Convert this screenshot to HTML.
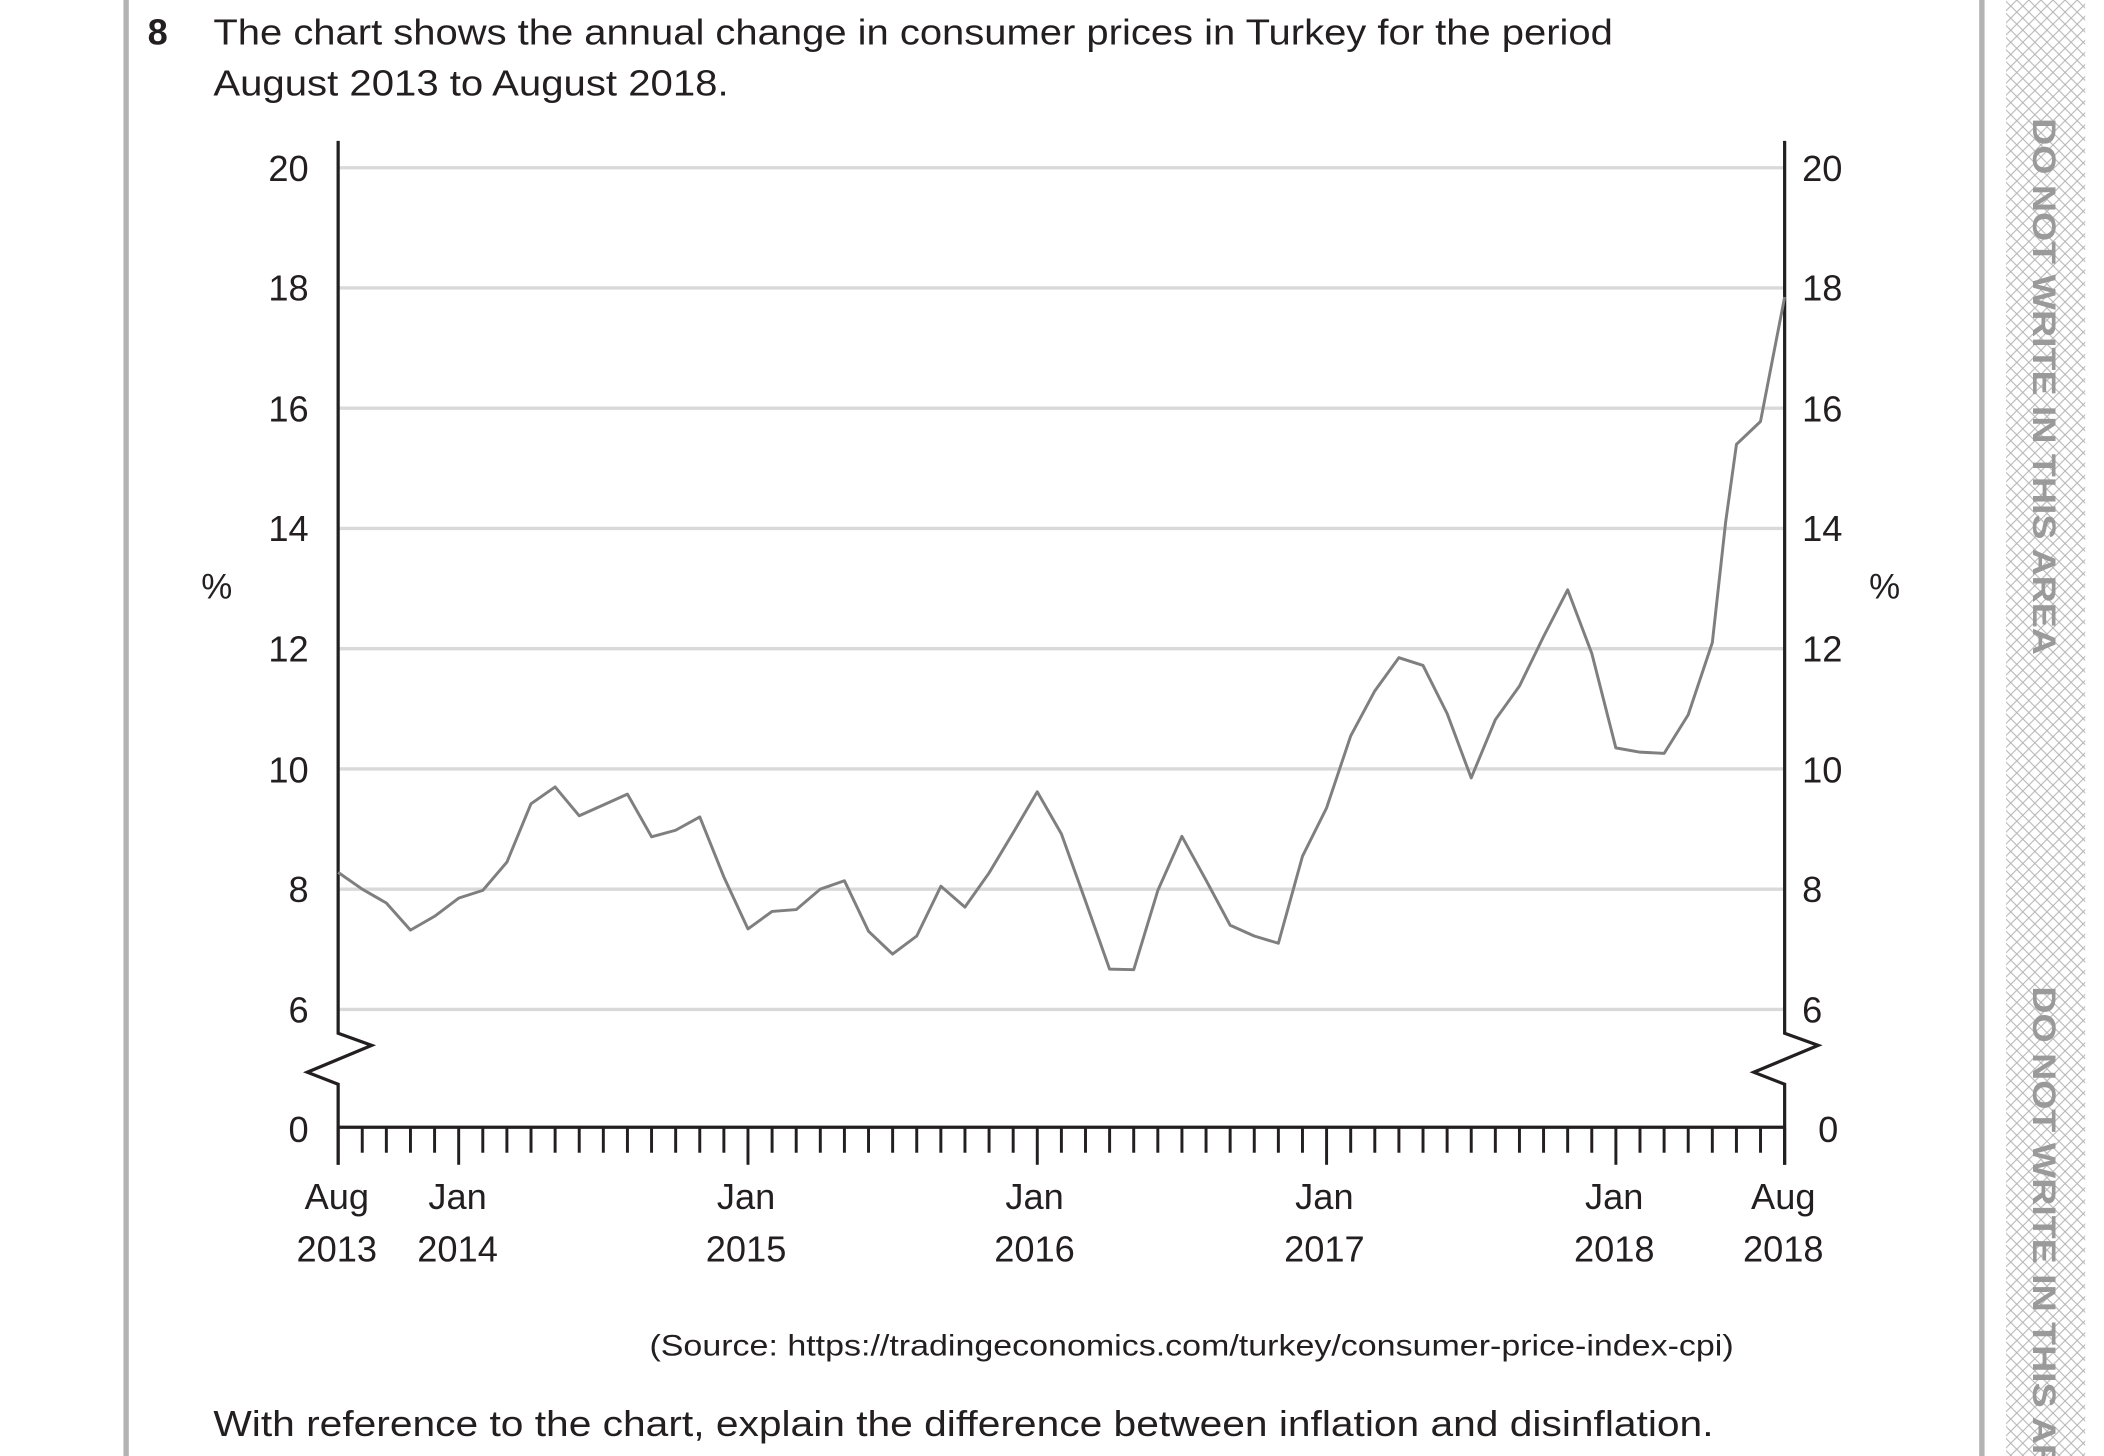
<!DOCTYPE html>
<html><head><meta charset="utf-8"><style>
html,body{margin:0;padding:0;background:#fff;}
svg{display:block;}
text{font-family:"Liberation Sans",sans-serif;fill:#231f20;}
</style></head><body>
<svg width="2104" height="1456" viewBox="0 0 1568 1085" preserveAspectRatio="none" xmlns="http://www.w3.org/2000/svg">
<defs>
<pattern id="h" width="9" height="9" patternUnits="userSpaceOnUse">
<path d="M0 0L9 9M9 0L0 9" stroke="#b5b5b5" stroke-width="0.8"/>
</pattern>
</defs>
<rect x="92" y="0" width="4" height="1085" fill="#b3b3b3"/>
<rect x="1475" y="0" width="4" height="1085" fill="#b3b3b3"/>
<rect x="1495" y="0" width="59" height="1085" fill="url(#h)"/>
<g fill="#9a9a9a" font-weight="bold" font-size="24">
<text transform="translate(1515,88) rotate(90)" style="fill:#9a9a9a" textLength="400" lengthAdjust="spacingAndGlyphs">DO NOT WRITE IN THIS AREA</text>
<text transform="translate(1515,735) rotate(90)" style="fill:#9a9a9a" textLength="400" lengthAdjust="spacingAndGlyphs">DO NOT WRITE IN THIS AREA</text>
</g>
<text x="110" y="33" font-size="27" font-weight="bold">8</text>
<text x="159" y="33" font-size="27" textLength="1043" lengthAdjust="spacingAndGlyphs">The chart shows the annual change in consumer prices in Turkey for the period</text>
<text x="159" y="71" font-size="27" textLength="384" lengthAdjust="spacingAndGlyphs">August 2013 to August 2018.</text>
<g stroke="#d9d9d9" stroke-width="2.5">
<line x1="252" x2="1330" y1="125" y2="125"/><line x1="252" x2="1330" y1="214.6" y2="214.6"/>
<line x1="252" x2="1330" y1="304.2" y2="304.2"/><line x1="252" x2="1330" y1="393.8" y2="393.8"/>
<line x1="252" x2="1330" y1="483.4" y2="483.4"/><line x1="252" x2="1330" y1="573" y2="573"/>
<line x1="252" x2="1330" y1="662.6" y2="662.6"/><line x1="252" x2="1330" y1="752.2" y2="752.2"/>
</g>
<g fill="none" stroke="#231f20" stroke-width="2.4">
<path d="M252 105V770L277 779L229 799L252 808V868"/>
<path d="M1330 105V770L1355 779L1307 799L1330 808V868"/>
<line x1="252" y1="840" x2="1330" y2="840"/>
<path id="ticks" d=""/>
</g>
<g stroke="#231f20" stroke-width="2.2" id="tk"></g>
<g font-size="27" text-anchor="end">
<text x="230" y="135">20</text><text x="230" y="224">18</text><text x="230" y="314">16</text><text x="230" y="403">14</text><text x="230" y="493">12</text><text x="230" y="583">10</text><text x="230" y="672">8</text><text x="230" y="762">6</text><text x="230" y="851">0</text>
</g>
<g font-size="27">
<text x="1343" y="135">20</text><text x="1343" y="224">18</text><text x="1343" y="314">16</text><text x="1343" y="403">14</text><text x="1343" y="493">12</text><text x="1343" y="583">10</text><text x="1343" y="672">8</text><text x="1343" y="762">6</text><text x="1355" y="851">0</text>
</g>
<text x="150" y="446" font-size="26">%</text>
<text x="1393" y="446" font-size="26">%</text>
<g font-size="27" text-anchor="middle">
<text x="251" y="901">Aug</text><text x="251" y="940">2013</text>
<text x="341" y="901">Jan</text><text x="341" y="940">2014</text>
<text x="556" y="901">Jan</text><text x="556" y="940">2015</text>
<text x="771" y="901">Jan</text><text x="771" y="940">2016</text>
<text x="987" y="901">Jan</text><text x="987" y="940">2017</text>
<text x="1203" y="901">Jan</text><text x="1203" y="940">2018</text>
<text x="1329" y="901">Aug</text><text x="1329" y="940">2018</text>
</g>
<text x="484" y="1010" font-size="22" textLength="808" lengthAdjust="spacingAndGlyphs">(Source: https://tradingeconomics.com/turkey/consumer-price-index-cpi)</text>
<text x="159" y="1070" font-size="27" textLength="1118" lengthAdjust="spacingAndGlyphs">With reference to the chart, explain the difference between inflation and disinflation.</text>
<polyline id="ln" fill="none" stroke="#7f7f7f" stroke-width="2.2" stroke-linejoin="round" points=""/>
</svg>
<script>
var d=[8.28,8.0,7.77,7.32,7.55,7.85,7.98,8.45,9.42,9.7,9.22,9.4,9.58,8.87,8.98,9.2,8.2,7.34,7.63,7.66,8.0,8.14,7.3,6.92,7.22,8.05,7.7,8.27,8.94,9.62,8.92,7.8,6.67,6.66,7.98,8.88,8.15,7.4,7.22,7.1,8.55,9.35,10.55,11.3,11.85,11.72,10.92,9.85,10.82,11.38,12.2,12.98,11.92,10.35,10.28,10.26,10.9,12.1,15.4,15.78,17.85];
var x0=252,dx=(1330-252)/60,pts=[];
d.forEach(function(v,i){pts.push((x0+i*dx).toFixed(1)+","+(125+(20-v)*44.8).toFixed(1));});
pts.splice(58,0,(x0+57.55*dx).toFixed(1)+","+(125+(20-14.1)*44.8).toFixed(1));
document.getElementById('ln').setAttribute('points',pts.join(' '));
var g=document.getElementById('tk'),s='';
for(var i=0;i<=60;i++){var x=x0+i*dx,maj=(i%12==5)||i==0||i==60;s+='<line x1="'+x+'" x2="'+x+'" y1="840" y2="'+(maj?868:859)+'"/>';}
g.innerHTML=s;
</script>
</body></html>
